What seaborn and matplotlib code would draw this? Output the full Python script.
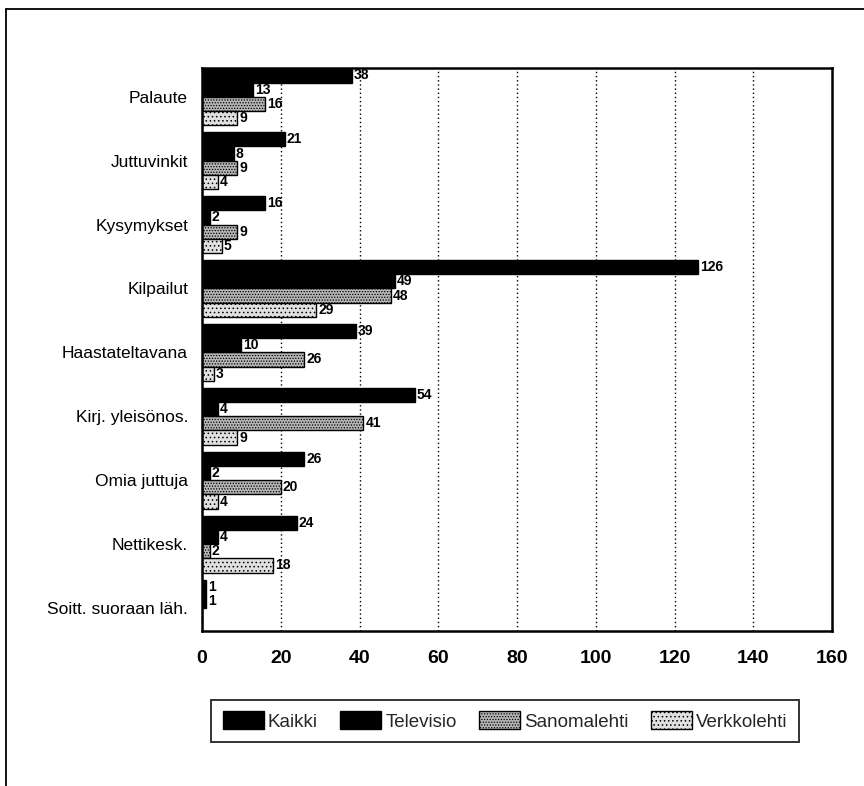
import matplotlib
matplotlib.use("Agg")
import matplotlib.pyplot as plt
from matplotlib.lines import Line2D
from matplotlib.patches import Patch
import seaborn as sns
import pandas as pd

categories = ["Palaute", "Juttuvinkit", "Kysymykset", "Kilpailut", "Haastateltavana",
              "Kirj. yleisönos.", "Omia juttuja", "Nettikesk.", "Soitt. suoraan läh."]
series = ["Kaikki", "Televisio", "Sanomalehti", "Verkkolehti"]
kaikki = [38, 21, 16, 126, 39, 54, 26, 24, 1]
televisio = [13, 8, 2, 49, 10, 4, 2, 4, 1]
sanomalehti = [16, 9, 9, 48, 26, 41, 20, 2, 0]
verkkolehti = [9, 4, 5, 29, 3, 9, 4, 18, 0]
x_ticks = [0, 20, 40, 60, 80, 100, 120, 140, 160]

sns.set_theme(style="white")
plt.rcParams["font.family"] = ["Liberation Sans Narrow", "Liberation Sans", "DejaVu Sans"]
plt.rcParams["hatch.linewidth"] = 0.6

rows = []
for name, vals in zip(series, [kaikki, televisio, sanomalehti, verkkolehti]):
    for cat, v in zip(categories, vals):
        rows.append({"cat": cat, "series": name, "value": v})
df = pd.DataFrame(rows)

fills = {"Kaikki": "#000000", "Televisio": "#000000",
         "Sanomalehti": "#b5b5b5", "Verkkolehti": "#e0e0e0"}
hatches = {"Kaikki": None, "Televisio": None, "Sanomalehti": "......", "Verkkolehti": "...."}

fig = plt.figure(figsize=(8.64, 7.86), dpi=100)
ax = fig.add_axes([202 / 864, 1 - 631 / 786, 630 / 864, 563 / 786])

sns.barplot(data=df, y="cat", x="value", hue="series", hue_order=series,
            order=categories, orient="h", palette=fills, width=0.89,
            edgecolor="black", linewidth=1.0, ax=ax, legend=False)

for name, cont in zip(series, ax.containers):
    for p in cont.patches:
        if hatches[name]:
            p.set_hatch(hatches[name])
    vals = df[df.series == name]["value"].tolist()
    labels = [str(v) if v > 0 else "" for v in vals]
    ax.bar_label(cont, labels=labels, padding=1.5, fontsize=10,
                 fontweight="bold", color="black")

ax.set_xlim(0, 160)
ax.set_ylim(8.36, -0.45)
ax.set_xticks(x_ticks)
ax.set_xticklabels([str(t) for t in x_ticks], fontsize=14, fontweight="bold")
ax.tick_params(axis="both", length=0, colors="black")
ax.tick_params(axis="x", pad=14)
ax.tick_params(axis="y", labelsize=12.5, pad=10)
ax.set_xlabel("")
ax.set_ylabel("")
for t in x_ticks[1:-1]:
    ax.axvline(t, color="black", linestyle=(0, (1, 2)), linewidth=1.0, zorder=0)
for s in ax.spines.values():
    s.set_visible(True)
    s.set_color("black")
    s.set_linewidth(1.8)

# legend with rectangles in the series styles
handles = [Patch(facecolor=fills[n], edgecolor="black", hatch=hatches[n], linewidth=1.0)
           for n in series]
leg = fig.legend(handles, series, loc="center", bbox_to_anchor=(505 / 864, 1 - 721 / 786),
                 ncol=4, frameon=True, fancybox=False, fontsize=13.5,
                 handlelength=2.2, handleheight=1.1, handletextpad=0.2,
                 columnspacing=1.2, borderpad=0.6)
leg.get_frame().set_edgecolor("black")
leg.get_frame().set_linewidth(1.4)

# outer frame around the figure
fig.add_artist(Line2D([6 / 864, 1.0], [1 - 9 / 786, 1 - 9 / 786],
                      transform=fig.transFigure, color="black", linewidth=1.3))
fig.add_artist(Line2D([6 / 864, 6 / 864], [0.0, 1 - 9 / 786],
                      transform=fig.transFigure, color="black", linewidth=1.3))

fig.savefig("out.png", dpi=100)
